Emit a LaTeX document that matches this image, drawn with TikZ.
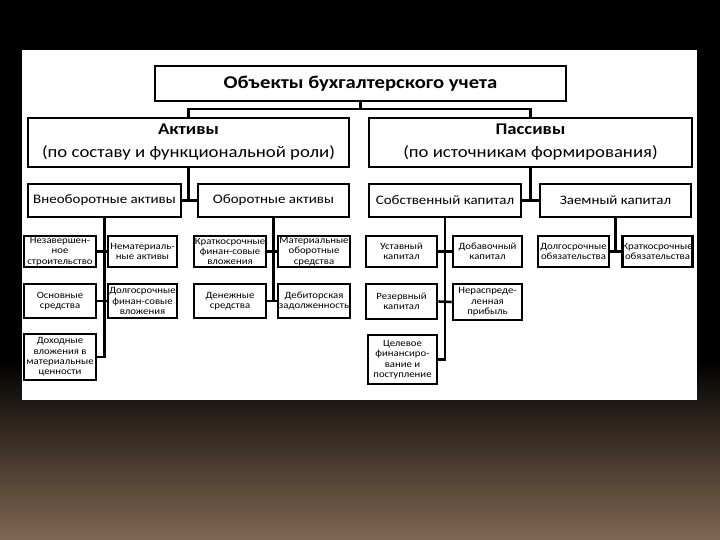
\documentclass[tikz,border=0pt]{standalone}
\usepackage{fontspec}
\setmainfont[FakeStretch=1.15]{Carlito}
\newfontfamily\klfont[FakeStretch=1.12]{Carlito}
\usepackage{tikz}
\usetikzlibrary{positioning,calc}
\definecolor{slidebot}{RGB}{128,103,82}
\tikzset{
  blok/.style={draw,line width=2.6pt,fill=white,inner sep=1pt,align=center},
  kl/.style={blok,inner xsep=0pt,font=\klfont\fontsize{9.6}{10.4}\selectfont},
  sr/.style={blok,minimum height=33pt,font=\fontsize{13}{14}\selectfont},
  lin/.style={line width=2.6pt},
}

\begin{document}
\begin{tikzpicture}[x=1pt,y=-1pt]
  \useasboundingbox (0,0) rectangle (720,540);
  \fill[black] (0,0) rectangle (720,360);
  \shade[top color=black,bottom color=slidebot] (0,359) rectangle (720,540);
  \fill[white] (22,50) rectangle (697,400);

  \node[blok,minimum width=411pt,minimum height=35pt,font=\fontsize{18}{19}\selectfont\bfseries]
    (obj) at (360.5,83.5) {Объекты бухгалтерского учета};
  \node[blok,minimum width=321pt,minimum height=49pt,font=\fontsize{16.3}{23}\selectfont]
    (akt) at (188.5,142.5) {\textbf{Активы}\\(по составу и функциональной роли)};
  \node[blok,minimum width=323pt,minimum height=49pt,font=\fontsize{16.3}{23}\selectfont]
    (pas) at (530.5,142.5) {\textbf{Пассивы}\\(по источникам формирования)};

  \node[sr,minimum width=153pt] (vneob) at (104.5,200.5) {Внеоборотные активы};
  \node[sr,minimum width=151pt] (obor) at (273.5,200.5) {Оборотные активы};
  \node[sr,minimum width=152pt] (sobst) at (445,200.5) {Собственный капитал};
  \node[sr,minimum width=151pt] (zaem) at (615.5,200.5) {Заемный капитал};

  \node[kl,minimum width=72pt,minimum height=31pt] (nez) at (60,251.5) {Незавершен-\\ное\\строительство};
  \node[kl,minimum width=69pt,minimum height=31pt] (nemat) at (142.5,251.5) {Нематериаль-\\ные активы};
  \node[kl,minimum width=72pt,minimum height=31pt] (krat) at (230,251.5) {Краткосрочные\\финан-совые\\вложения};
  \node[kl,minimum width=72pt,minimum height=31pt] (mat) at (314,251.5) {Материальные\\оборотные\\средства};
  \node[kl,minimum width=72pt,minimum height=34pt] (osn) at (60,301) {Основные\\средства};
  \node[kl,minimum width=69pt,minimum height=34pt] (dfin) at (142.5,301) {Долгосрочные\\финан-совые\\вложения};
  \node[kl,minimum width=72pt,minimum height=34pt] (den) at (230,301) {Денежные\\средства};
  \node[kl,minimum width=72pt,minimum height=34pt] (deb) at (314,301) {Дебиторская\\задолженность};
  \node[kl,minimum width=72pt,minimum height=46pt] (doh) at (60,357) {Доходные\\вложения в\\материальные\\ценности};

  \node[kl,minimum width=71pt,minimum height=31pt] (ust) at (401.5,251.5) {Уставный\\капитал};
  \node[kl,minimum width=69pt,minimum height=31pt] (dob) at (487.5,251.5) {Добавочный\\капитал};
  \node[kl,minimum width=71pt,minimum height=31pt] (dolob) at (573.5,251.5) {Долгосрочные\\обязательства};
  \node[kl,minimum width=69pt,minimum height=31pt] (kratob) at (657.5,251.5) {Краткосрочные\\обязательства};
  \node[kl,minimum width=71pt,minimum height=35pt] (rez) at (401.5,301.5) {Резервный\\капитал};
  \node[kl,minimum width=69pt,minimum height=36pt] (neras) at (487.5,302) {Нераспреде-\\ленная\\прибыль};
  \node[kl,minimum width=69pt,minimum height=49pt] (cel) at (402.5,359.5) {Целевое\\финансиро-\\вание и\\поступление};

  \coordinate (hub) at (360.5,109);
  \draw[lin] (obj.south) -- (hub);
  \draw[lin] (akt.north) |- (hub) -| (pas.north);
  \draw[lin] (akt.south) -- (akt.south |- vneob.east);
  \draw[lin] (vneob.east) -- (obor.west);
  \draw[lin] (pas.south) -- (pas.south |- sobst.east);
  \draw[lin] (sobst.east) -- (zaem.west);

  \draw[lin] (vneob.south) -- (vneob.south |- doh.east) -- (doh.east);
  \draw[lin] (nez.east) -- (nemat.west);
  \draw[lin] (osn.east) -- (dfin.west);
  \draw[lin] (obor.south) -- (obor.south |- den.east);
  \draw[lin] (krat.east) -- (mat.west);
  \draw[lin] (den.east) -- (deb.west);
  \draw[lin] (sobst.south) -- (sobst.south |- cel.east) -- (cel.east);
  \draw[lin] (ust.east) -- (dob.west);
  \draw[lin] (rez.east) -- (neras.west);
  \draw[lin] (zaem.south) -- (zaem.south |- kratob.west);
  \draw[lin] (dolob.east) -- (kratob.west);
\end{tikzpicture}
\end{document}
